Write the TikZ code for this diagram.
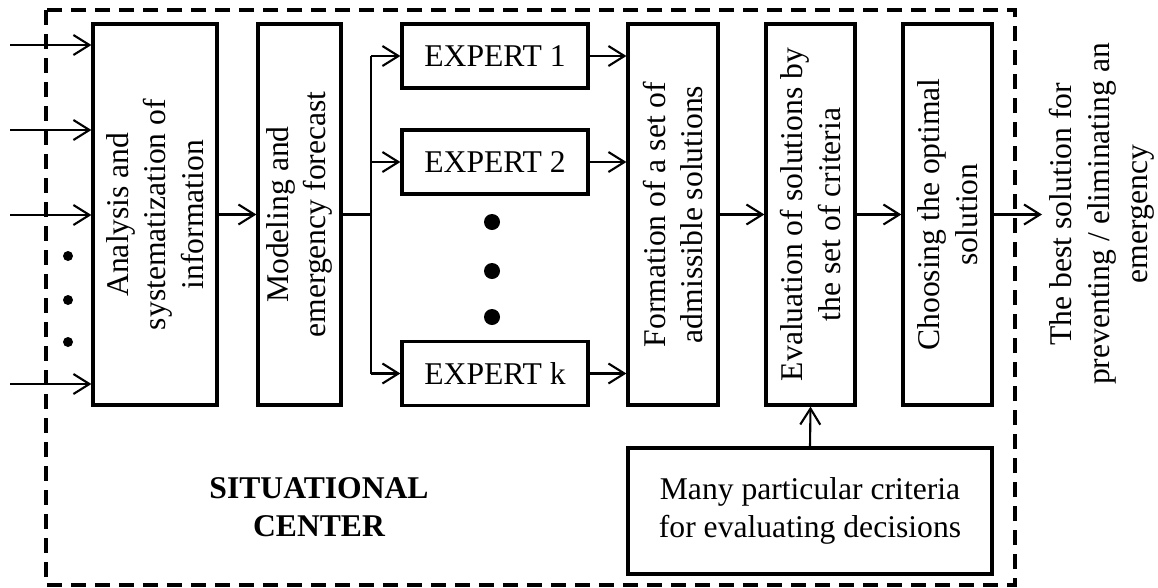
\documentclass[tikz,border=0pt]{standalone}
\usepackage{fontspec}
\setmainfont{Liberation Serif}
\usetikzlibrary{arrows.meta, positioning}
\def\txtsize{\fontsize{18}{21.5}\selectfont}
\tikzset{
	box/.style={draw, line width=1.8pt, inner sep=0pt, align=center},
	vbox/.style={box, rotate=90, minimum width=7.62cm},
	expert/.style={box, minimum width=3.72cm, minimum height=1.28cm},
	link/.style={line width=1.2pt, -{Straight Barb[length=3.2mm, width=4mm, line width=1.2pt]}},
	frame/.style={line width=1.8pt, dash pattern=on 0.3cm off 0.18cm}
}

\begin{document}
\begin{tikzpicture}[font=\txtsize]
	\useasboundingbox (0,0) rectangle (23.16,-11.74);
	\draw[frame] (0.92,-0.2) rectangle (20.3,-11.7);

	% main chain
	\node[vbox, minimum height=2.48cm] (anal) at (3.1,-4.29) {Analysis and\\ systematization of\\ information};
	\node[vbox, minimum height=1.66cm] (model) at (5.99,-4.29) {Modeling and\\ emergency forecast};
	\node[expert] (e1) at (9.9,-1.12) {EXPERT 1};
	\node[expert] (e2) at (9.9,-3.24) {EXPERT 2};
	\node[expert] (ek) at (9.9,-7.47) {EXPERT k};
	\node[vbox, minimum height=1.8cm] (form) at (13.46,-4.29) {Formation of a set of\\ admissible solutions};
	\node[vbox, minimum height=1.78cm] (eval) at (16.21,-4.29) {Evaluation of solutions by\\ the set of criteria};
	\node[vbox, minimum height=1.78cm] (choose) at (18.95,-4.29) {Choosing the optimal\\ solution};
	\node[box, minimum width=7.28cm, minimum height=2.52cm] (crit) at (16.2,-10.22) {Many particular criteria\\ for evaluating decisions};
	\node[align=center, font=\txtsize\bfseries] (center) at (6.38,-10.14) {SITUATIONAL\\ CENTER};
	\node[rotate=90, align=center] (result) at (22.04,-4.28) {The best solution for\\ preventing / eliminating an\\ emergency};

	% inputs
	\foreach \y [count=\i] in {-0.9,-2.6,-4.3,-7.68} {
		\coordinate (in\i) at (0.2,\y);
		\draw[link] (in\i) -- (in\i -| anal.north);
	}
	\foreach \y in {-5.12,-6.0,-6.84}
		\fill (1.36,\y) circle (0.1);

	% experts
	\coordinate (fork) at (7.42,0);
	\draw[link] (anal.south) -- (model.north);
	\draw[line width=1.2pt] (model.south) -- (model.south -| fork);
	\draw[line width=1.2pt] (fork |- e1) -- (fork |- ek);
	\foreach \e in {e1,e2,ek} {
		\draw[link] (fork |- \e) -- (\e.west);
		\draw[link] (\e.east) -- (\e.east -| form.north);
	}
	\foreach \y in {-4.44,-5.42,-6.34}
		\fill (9.84,\y) circle (0.16);

	% decision
	\coordinate (out) at (20.84,0);
	\draw[link] (form.south) -- (eval.north);
	\draw[link] (eval.south) -- (choose.north);
	\draw[link] (choose.south) -- (choose.south -| out);
	\draw[link] (crit.north) -- (eval.west);
\end{tikzpicture}
\end{document}
